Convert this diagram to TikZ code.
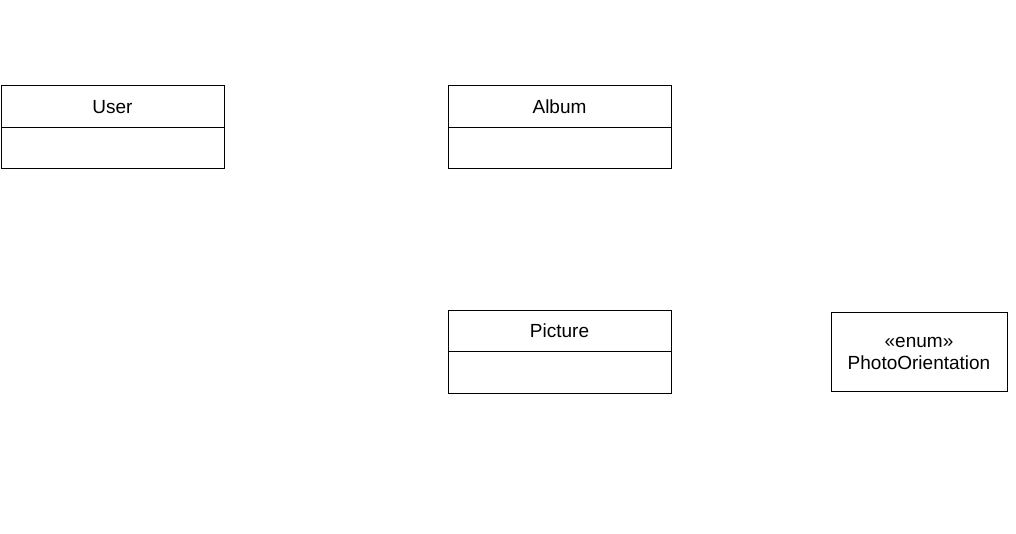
\documentclass[tikz,border=0pt]{standalone}
\usepackage{fontspec}
\setmainfont{Liberation Sans}
\begin{document}
\begin{tikzpicture}[x=1pt,y=-1pt,
  cls/.style={draw=black,line width=1pt,fill=white},
  lbl/.style={font=\fontsize{19}{23}\selectfont,inner sep=0pt,anchor=center}]
\useasboundingbox[fill=white] (0,0) rectangle (1016,534);
% User
\draw[cls] (1,86) rectangle (224,169);
\draw[line width=1pt] (1,128) -- (224,128);
\node[lbl] (user) at (112.5,107) {User};
% Album
\draw[cls] (448,86) rectangle (671,169);
\draw[line width=1pt] (448,128) -- (671,128);
\node[lbl] (album) at (559.5,107) {Album};
% Picture
\draw[cls] (448,310) rectangle (671,393);
\draw[line width=1pt] (448,351) -- (671,351);
\node[lbl] (picture) at (559.5,331) {Picture};
% Enum
\draw[cls] (831,312) rectangle (1007,391);
\node[lbl,align=center,font=\fontsize{19}{22}\selectfont] (enum) at (919,353.5) {«enum»\\PhotoOrientation};
\end{tikzpicture}
\end{document}
